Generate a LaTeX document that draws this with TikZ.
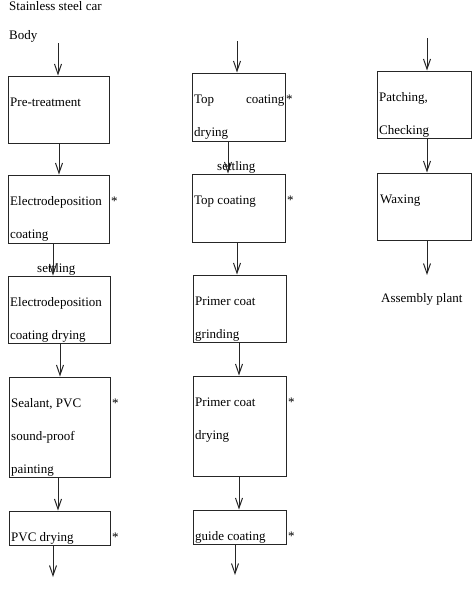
\documentclass[tikz,border=0pt]{standalone}
\usepackage{fontspec}
\setmainfont{Liberation Serif}
\usetikzlibrary{arrows.meta}
\begin{document}
\begin{tikzpicture}[x=1pt,y=-1pt,
  box/.style={draw=black!85, line width=1pt, inner sep=0pt, fill=none},
  txt/.style={anchor=base west, inner sep=0pt, font=\fontsize{13}{15}\selectfont},
  txtr/.style={anchor=base east, inner sep=0pt, font=\fontsize{13}{15}\selectfont},
  arr/.style={draw=black!85, line width=1pt, -{Straight Barb[length=10pt,width=7pt,line width=1pt]}}]
\useasboundingbox (0,0) rectangle (475,605);

% column 1 boxes
\node[box, minimum width=101pt, minimum height=67pt] (b1) at (58.5,109.5) {};
\node[box, minimum width=101pt, minimum height=68pt] (b2) at (58.5,209) {};
\node[box, minimum width=102pt, minimum height=67pt] (b3) at (59,309.5) {};
\node[box, minimum width=101pt, minimum height=100pt] (b4) at (59.5,427) {};
\node[box, minimum width=101pt, minimum height=34pt] (b5) at (59.5,528) {};

% column 2 boxes
\node[box, minimum width=93pt, minimum height=68pt] (c1) at (238.5,107) {};
\node[box, minimum width=93pt, minimum height=68pt] (c2) at (238.5,208) {};
\node[box, minimum width=93pt, minimum height=67pt] (c3) at (239.5,308.5) {};
\node[box, minimum width=93pt, minimum height=100pt] (c4) at (239.5,426) {};
\node[box, minimum width=93pt, minimum height=34pt] (c5) at (239.5,527) {};

% column 3 boxes
\node[box, minimum width=94pt, minimum height=67pt] (d1) at (424,104.5) {};
\node[box, minimum width=94pt, minimum height=67pt] (d2) at (424,206.5) {};

% free texts
\node[txt] (t0) at (9,10) {Stainless steel car};
\node[txt] (t1) at (9,39) {Body};
\node[txt] (t2) at (381,302) {Assembly plant};

% column 1 texts
\node[txt] (b1a) at (10,106) {Pre-treatment};
\node[txt] (b2a) at (10,205) {Electrodeposition};
\node[txt] (b2b) at (10,238) {coating};
\node[txt] (b2s) at (111,205) {*};
\node[txt] (s1) at (37,272) {settling};
\node[txt] (b3a) at (10,306) {Electrodeposition};
\node[txt] (b3b) at (10,339) {coating drying};
\node[txt] (b4a) at (11,407) {Sealant, PVC};
\node[txt] (b4b) at (11,440) {sound-proof};
\node[txt] (b4c) at (11,473) {painting};
\node[txt] (b4s) at (112,407) {*};
\node[txt] (b5a) at (11,541) {PVC drying};
\node[txt] (b5s) at (112,541) {*};

% column 2 texts
\node[txt] (c1a) at (194,103) {Top};
\node[txtr] (c1b) at (284.5,103) {coating};
\node[txt] (c1s) at (286,103) {*};
\node[txt] (c1c) at (194,136) {drying};
\node[txt] (s2) at (217,170) {settling};
\node[txt] (c2a) at (194,204) {Top coating};
\node[txt] (c2s) at (287,204) {*};
\node[txt] (c3a) at (195,305) {Primer coat};
\node[txt] (c3b) at (195,338) {grinding};
\node[txt] (c4a) at (195,406) {Primer coat};
\node[txt] (c4b) at (195,439) {drying};
\node[txt] (c4s) at (288,406) {*};
\node[txt] (c5a) at (195,540) {guide coating};
\node[txt] (c5s) at (288,540) {*};

% column 3 texts
\node[txt] (d1a) at (379,101) {Patching,};
\node[txt] (d1b) at (379,134) {Checking};
\node[txt] (d2a) at (380,203) {Waxing};

% free arrow ends
\coordinate (in1) at (58,43);
\coordinate (out1) at (53,577);
\coordinate (in2) at (237,41);
\coordinate (out2) at (235,575);
\coordinate (in3) at (427,38);
\coordinate (out3) at (427,275);

% column 1 arrows
\draw[arr] (in1) -- ([xshift=-0.5pt]b1.north);
\draw[arr] ([xshift=0.5pt]b1.south) -- ([xshift=0.5pt]b2.north);
\draw[arr] ([xshift=-5.5pt]b2.south) -- ([xshift=-6pt]b3.north);
\draw[arr] ([xshift=1pt]b3.south) -- ([xshift=0.5pt]b4.north);
\draw[arr] ([xshift=-1.5pt]b4.south) -- ([xshift=-1.5pt]b5.north);
\draw[arr] ([xshift=-6.5pt]b5.south) -- (out1);

% column 2 arrows
\draw[arr] (in2) -- ([xshift=-1.5pt]c1.north);
\draw[arr] ([xshift=-10.5pt]c1.south) -- ([xshift=-10.5pt]c2.north);
\draw[arr] ([xshift=-1.5pt]c2.south) -- ([xshift=-2.5pt]c3.north);
\draw[arr] ([xshift=-0.5pt]c3.south) -- ([xshift=-0.5pt]c4.north);
\draw[arr] ([xshift=-0.5pt]c4.south) -- ([xshift=-0.5pt]c5.north);
\draw[arr] ([xshift=-4.5pt]c5.south) -- (out2);

% column 3 arrows
\draw[arr] (in3) -- ([xshift=3pt]d1.north);
\draw[arr] ([xshift=3pt]d1.south) -- ([xshift=3pt]d2.north);
\draw[arr] ([xshift=3pt]d2.south) -- (out3);
\end{tikzpicture}
\end{document}
